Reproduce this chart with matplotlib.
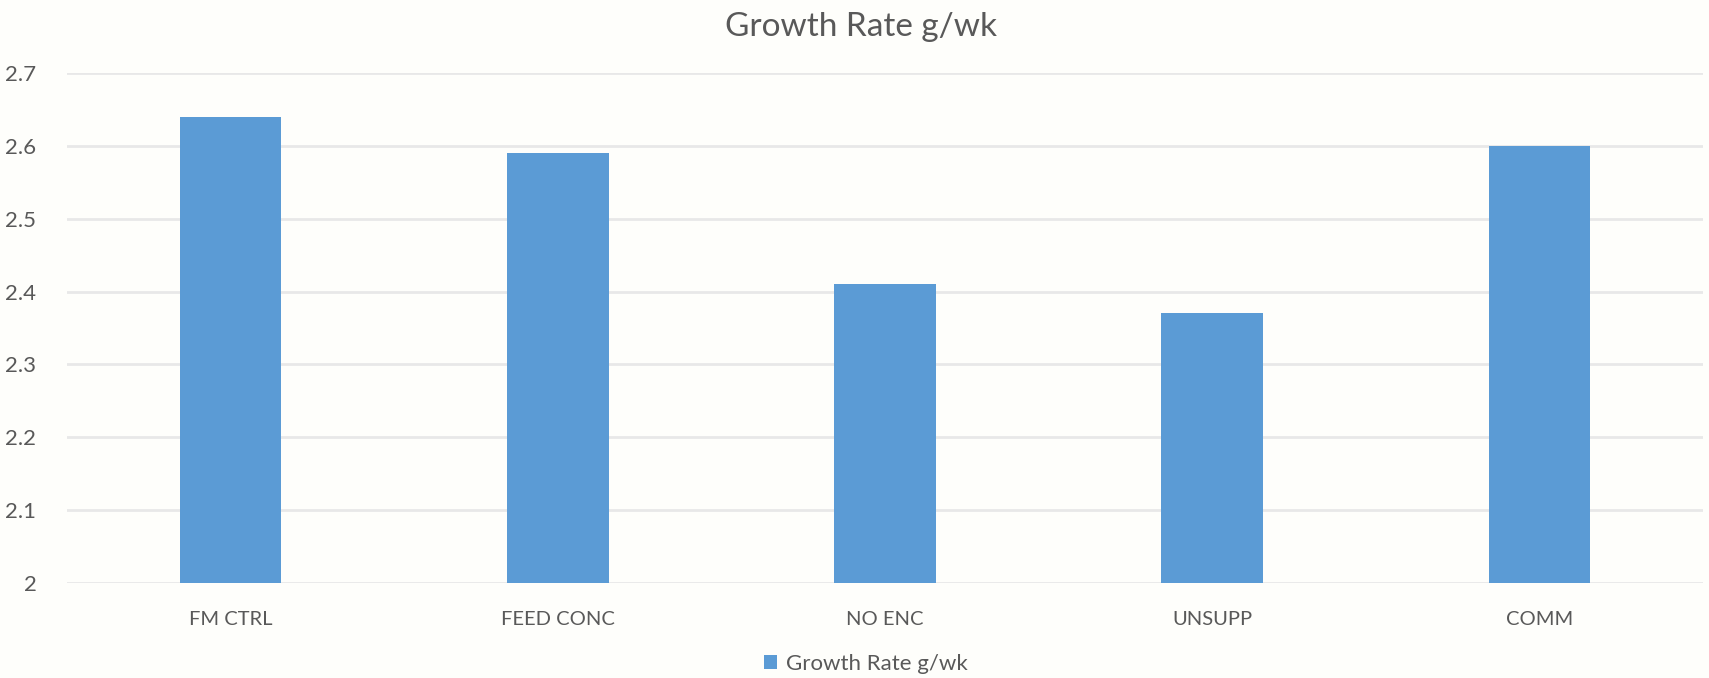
import matplotlib.pyplot as plt
from matplotlib.patches import Patch

categories = ["FM CTRL", "FEED CONC", "NO ENC", "UNSUPP", "COMM"]
growth_rate = [2.64, 2.59, 2.41, 2.37, 2.60]
y_ticks = [2.0, 2.1, 2.2, 2.3, 2.4, 2.5, 2.6, 2.7]
y_tick_labels = ["2", "2.1", "2.2", "2.3", "2.4", "2.5", "2.6", "2.7"]
series_name = "Growth Rate g/wk"
title = "Growth Rate g/wk"

bar_color = "#5B9BD5"
text_color = "#595959"
grid_color = "#E8E8E8"
bg = "#FEFEFB"

plt.rcParams["font.family"] = ["Lato", "DejaVu Sans"]

W, H = 1709, 678
fig = plt.figure(figsize=(W / 100, H / 100), dpi=100, facecolor=bg)
ax = fig.add_axes([67 / W, 1 - 583 / H, (1703 - 67) / W, (583 - 73) / H], facecolor=bg)

x = range(len(categories))
ax.bar(x, [v - 2.0 for v in growth_rate], bottom=2.0, width=0.31, color=bar_color, zorder=3)

ax.set_ylim(2.0, 2.7)
ax.set_xlim(-0.5, len(categories) - 0.5)
ax.set_yticks(y_ticks)
ax.set_yticklabels(y_tick_labels)
ax.set_xticks(list(x))
ax.set_xticklabels(categories)
ax.tick_params(axis="y", length=0, pad=22, labelsize=16, labelcolor=text_color)
ax.tick_params(axis="x", length=0, pad=20, labelsize=14.5, labelcolor=text_color)
ax.grid(axis="y", color=grid_color, linewidth=2, zorder=0)
for s in ax.spines.values():
    s.set_visible(False)

fig.text(861 / W, 1 - 27 / H, title, ha="center", va="center", fontsize=24, color=text_color)

handle = Patch(facecolor=bar_color, edgecolor="none")
fig.legend([handle], [series_name], loc="center", bbox_to_anchor=(866 / W, 1 - 664 / H),
           frameon=False, fontsize=16, labelcolor=text_color, handlelength=0.6,
           handleheight=0.6, handletextpad=0.4)

fig.savefig("out.png", dpi=100, facecolor=bg)
